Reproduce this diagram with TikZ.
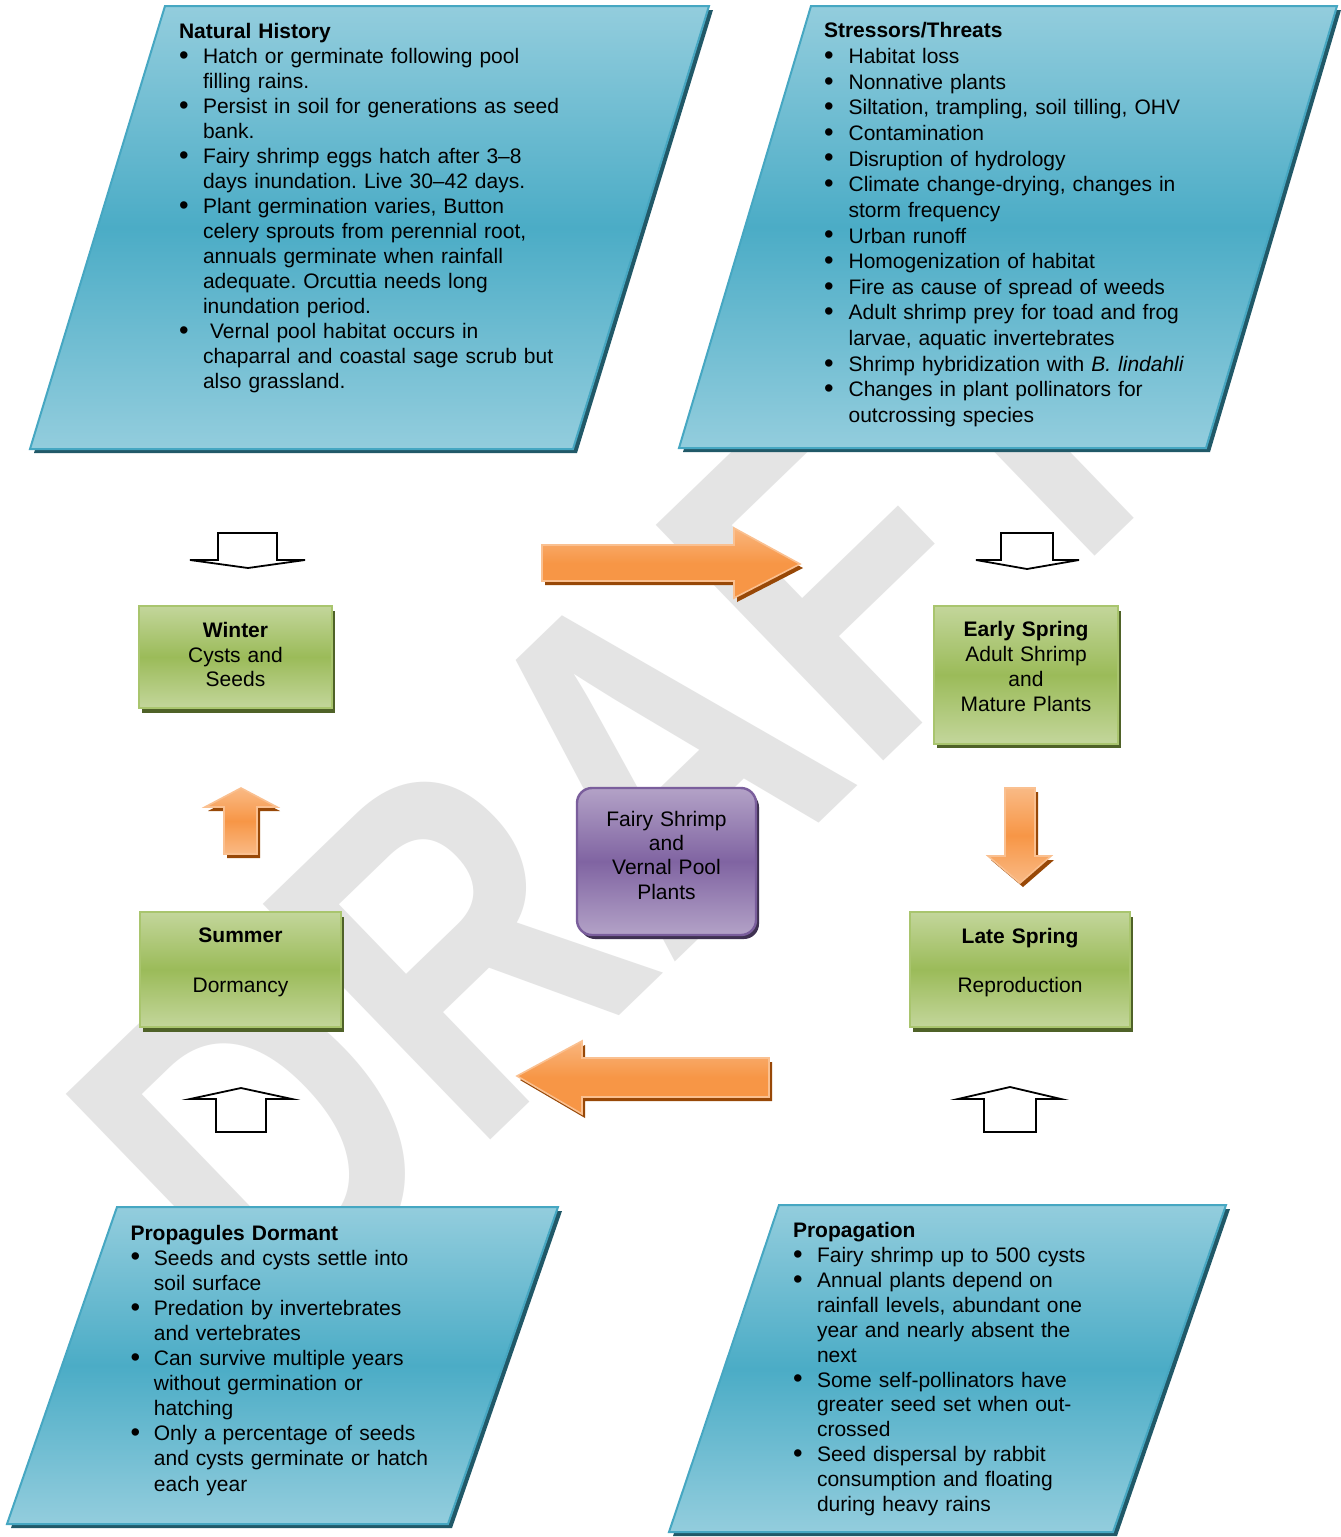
\documentclass[tikz,border=0pt]{standalone}
\usepackage{fontspec}
\usepackage{graphicx}
\setmainfont{Liberation Sans}
\usetikzlibrary{shadows}
\definecolor{bluL}{HTML}{93CDDD}
\definecolor{bluM}{HTML}{4BACC6}
\definecolor{bluD}{HTML}{46A7C2}
\definecolor{bluS}{HTML}{215968}
\definecolor{grnL}{HTML}{C3D69B}
\definecolor{grnM}{HTML}{9BBB59}
\definecolor{grnD}{HTML}{A9C56E}
\definecolor{grnS}{HTML}{4F6228}
\definecolor{purL}{HTML}{B3A2C7}
\definecolor{purM}{HTML}{8064A2}
\definecolor{purD}{HTML}{7A5E9C}
\definecolor{purS}{HTML}{3F3151}
\definecolor{orgL}{HTML}{FAC090}
\definecolor{orgM}{HTML}{F79646}
\definecolor{orgS}{HTML}{984807}
\definecolor{wmk}{HTML}{E4E4E4}
\newlength\indw
\newcommand\BulX{\makebox[\indw][l]{\raisebox{-0.4pt}{\scalebox{1.3}{\textbullet}}}}
\newcommand\IndX{\hspace*{\indw}}
\frenchspacing
\begin{document}
\frenchspacing
\begin{tikzpicture}[x=0.5pt,y=-0.5pt,
  every node/.style={inner sep=0pt, outer sep=0pt},
  para/.style={preaction={fill=bluS, transform canvas={shift={(2pt,-2pt)}}},
    draw=bluD, line width=1pt, top color=bluL, bottom color=bluL, middle color=bluM},
  listtext/.style={anchor=north west, text width=205pt, align=left,
    font=\fontsize{10.5}{#1}\selectfont\frenchspacing},
  gbox/.style={draw=grnD, line width=1pt, top color=grnL, bottom color=grnL, middle color=grnM,
    drop shadow={shadow xshift=1.5pt, shadow yshift=-2.25pt, fill=grnS, opacity=1}},
  pbox/.style={draw=purD, line width=1.2pt, rounded corners=7.5pt,
    top color=purL, bottom color=purL, middle color=purM,
    drop shadow={shadow xshift=1.5pt, shadow yshift=-2pt, fill=purS, opacity=1}},
  boxtext/.style={anchor=north, text width=110pt, align=center,
    font=\fontsize{10.5}{#1}\selectfont},
  oarrowh/.style={preaction={fill=orgS, transform canvas={shift={(1.5pt,-2pt)}}},
    draw=orgL, line width=0.8pt, top color=orgL!75!orgM, bottom color=orgM, middle color=orgM},
  oarrowv/.style={preaction={fill=orgS, transform canvas={shift={(1.5pt,-2pt)}}},
    draw=orgL, line width=0.8pt, top color=orgL!85!orgM, bottom color=orgL!85!orgM, middle color=orgM},
  warrow/.style={draw=black, fill=white, line width=0.9pt}
]
\useasboundingbox (0,0) rectangle (1340,1537);
\fill[white] (0,0) rectangle (1340,1537);

% watermark
\node[rotate=44, xscale=0.795, anchor=base east, text=wmk,
  font=\fontsize{238}{238}\selectfont\bfseries] (wmark) at (1198,457) {DRAFT};

% parallelograms
\path[para] (165,6) -- (709,6) -- (573,449) -- (30,449) -- cycle;
\path[para] (811,6) -- (1337,6) -- (1206,448) -- (679,448) -- cycle;
\path[para] (117,1207) -- (558,1207) -- (448,1524) -- (7,1524) -- cycle;
\path[para] (779,1205) -- (1226,1205) -- (1113,1532) -- (669,1532) -- cycle;

\node[listtext=12.5pt] (nhText) at (179,20.8) {\setlength\indw{12pt}%
\strut\textbf{Natural History}\\
\BulX Hatch or germinate following pool\\
\IndX filling rains.\\
\BulX Persist in soil for generations as seed\\
\IndX bank.\\
\BulX Fairy shrimp eggs hatch after 3--8\\
\IndX days inundation. Live 30--42 days.\\
\BulX Plant germination varies, Button\\
\IndX celery sprouts from perennial root,\\
\IndX annuals germinate when rainfall\\
\IndX adequate. Orcuttia needs long\\
\IndX inundation period.\\
\BulX\ Vernal pool habitat occurs in\\
\IndX chaparral and coastal sage scrub but\\
\IndX also grassland.};

\node[listtext=12.82pt] (stText) at (824,20) {\setlength\indw{12.3pt}%
\strut\textbf{Stressors/Threats}\\
\BulX Habitat loss\\
\BulX Nonnative plants\\
\BulX Siltation, trampling, soil tilling, OHV\\
\BulX Contamination\\
\BulX Disruption of hydrology\\
\BulX Climate change-drying, changes in\\
\IndX storm frequency\\
\BulX Urban runoff\\
\BulX Homogenization of habitat\\
\BulX Fire as cause of spread of weeds\\
\BulX Adult shrimp prey for toad and frog\\
\IndX larvae, aquatic invertebrates\\
\BulX Shrimp hybridization with \textit{B. lindahli}\\
\BulX Changes in plant pollinators for\\
\IndX outcrossing species};

\node[listtext=12.55pt] (pdText) at (130.5,1222.5) {\setlength\indw{11.7pt}%
\strut\textbf{Propagules Dormant}\\
\BulX Seeds and cysts settle into\\
\IndX soil surface\\
\BulX Predation by invertebrates\\
\IndX and vertebrates\\
\BulX Can survive multiple years\\
\IndX without germination or\\
\IndX hatching\\
\BulX Only a percentage of seeds\\
\IndX and cysts germinate or hatch\\
\IndX each year};

\node[listtext=12.45pt] (prText) at (793,1220.2) {\setlength\indw{12pt}%
\strut\textbf{Propagation}\\
\BulX Fairy shrimp up to 500 cysts\\
\BulX Annual plants depend on\\
\IndX rainfall levels, abundant one\\
\IndX year and nearly absent the\\
\IndX next\\
\BulX Some self-pollinators have\\
\IndX greater seed set when out-\\
\IndX crossed\\
\BulX Seed dispersal by rabbit\\
\IndX consumption and floating\\
\IndX during heavy rains};

% season boxes
\node[gbox, minimum width=96.5pt, minimum height=51pt] (winter) at (235.5,657) {};
\node[boxtext=12.25pt] (winterT) at (235.5,620.4) {\strut\textbf{Winter}\\Cysts and\\Seeds};

\node[gbox, minimum width=92pt, minimum height=68.75pt] (early) at (1026,674.75) {};
\node[boxtext=12.35pt] (earlyT) at (1026,619.7) {\strut\textbf{Early Spring}\\Adult Shrimp\\and\\Mature Plants};

\node[gbox, minimum width=100.5pt, minimum height=57.5pt] (summer) at (240.5,969.5) {};
\node[boxtext=12.4pt] (summerT) at (240.5,925.5) {\strut\textbf{Summer}\\[12.4pt]Dormancy};

\node[gbox, minimum width=110pt, minimum height=57.5pt] (late) at (1020,969.5) {};
\node[boxtext=12.3pt] (lateT) at (1020,926) {\strut\textbf{Late Spring}\\[12.3pt]Reproduction};

% centre box
\node[pbox, minimum width=89.5pt, minimum height=73.5pt] (core) at (666.5,861.5) {};
\node[boxtext=12.2pt] (coreT) at (666.5,809) {\strut Fairy Shrimp\\and\\Vernal Pool\\Plants};

% orange block arrows
\path[oarrowh] (542,545) -- (734,545) -- (734,528) -- (800,564) -- (734,598) -- (734,581) -- (542,581) -- cycle;
\path[oarrowh] (769,1058) -- (582,1058) -- (582,1041) -- (517,1076) -- (582,1114) -- (582,1097) -- (769,1097) -- cycle;
\path[oarrowv] (224,854) -- (224,807) -- (205,807) -- (241,788) -- (277,807) -- (257,807) -- (257,854) -- cycle;
\path[oarrowv] (1005,788) -- (1035,788) -- (1035,856) -- (1051,856) -- (1020,883) -- (988,856) -- (1005,856) -- cycle;

% white outline arrows
\path[warrow] (218,533) -- (277,533) -- (277,560) -- (305,560) -- (248,568) -- (190,560) -- (218,560) -- cycle;
\path[warrow] (1001,533) -- (1053,533) -- (1053,560) -- (1079,560) -- (1027,569) -- (976,560) -- (1001,560) -- cycle;
\path[warrow] (216,1132) -- (216,1099) -- (190,1099) -- (241,1088) -- (292,1099) -- (266,1099) -- (266,1132) -- cycle;
\path[warrow] (984,1132) -- (984,1099) -- (958,1099) -- (1010,1087) -- (1061,1099) -- (1036,1099) -- (1036,1132) -- cycle;
\end{tikzpicture}
\end{document}
